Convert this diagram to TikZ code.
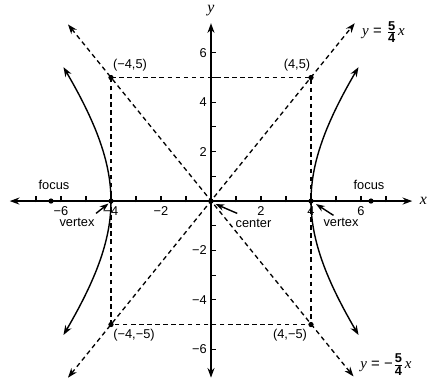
\documentclass[tikz,border=0pt]{standalone}
\usepackage{fontspec}
\setmainfont{Liberation Sans}
\newfontfamily\serifit{Liberation Serif}[ItalicFont={Liberation Serif Italic}]
\usetikzlibrary{arrows.meta}
\begin{document}
\begin{tikzpicture}[x=0.5cm,y=0.494cm,
  tip/.style={},
  axis/.style={line width=0.8pt,{Stealth[length=5.5pt,width=4pt]}-{Stealth[length=5.5pt,width=4pt]}},
  dsh/.style={dash pattern=on 2.6pt off 2pt, line width=0.75pt},
  dasharrows/.style={dsh,{Stealth[length=5.5pt,width=4pt]}-{Stealth[length=5.5pt,width=4pt]}},
  curve/.style={line width=0.8pt,{Stealth[length=5.5pt,width=4pt]}-{Stealth[length=5.5pt,width=4pt]}},
  lbl/.style={font=\fontsize{7.3}{8.5}\selectfont, inner sep=0.5pt},
  dot/.style={circle, fill, inner sep=0pt, minimum size=3pt},
  pointer/.style={line width=0.8pt,-{Stealth[length=5pt,width=3.6pt]}},
  tick/.style={line width=0.6pt}
]
\useasboundingbox (-8.44,-7.37) rectangle (8.64,8.14);

% key points
\coordinate (O) at (0,0);
\coordinate (A) at (-4,5);
\coordinate (B) at (4,5);
\coordinate (C) at (4,-5);
\coordinate (D) at (-4,-5);
\coordinate (V1) at (-4,0);
\coordinate (V2) at (4,0);
\coordinate (F1) at (-6.4,0);
\coordinate (F2) at (6.4,0);
\coordinate (xl) at (-8.05,0);
\coordinate (xr) at (8.05,0);
\coordinate (yb) at (0,-7.15);
\coordinate (yt) at (0,7.2);
\coordinate (a1s) at (-5.72,-7.15);
\coordinate (a1e) at (5.75,7.2);
\coordinate (a2s) at (-5.72,7.15);
\coordinate (a2e) at (5.7,-7.1);

% ticks
\foreach \i in {-7,...,-1,1,2,...,7} \draw[tick] (\i,-0.05) -- (\i,0.2);
\foreach \j in {-6,...,-1,1,2,...,6} \draw[tick] (0,\j) -- (0.22,\j);

% axes
\draw[axis] (xl) -- (xr);
\draw[axis] (yb) -- (yt);
\node[lbl, font=\fontsize{9}{10}\selectfont\serifit\itshape] (xlab) at (8.5,0.02) {x};
\node[lbl, font=\fontsize{9}{10}\selectfont\serifit\itshape] (ylab) at (0,7.7) {y};

% tick labels
\foreach \i/\t in {-6/−6,-4/−4,-2/−2,2/2,4/4,6/6}
  \node[lbl] (xt\i) at (\i,-0.42) {\t};
\foreach \j/\t in {-6/−6,-4/−4,-2/−2,2/2,4/4,6/6}
  \node[lbl, anchor=east] (yt\j) at (-0.12,\j) {\t};

% dashed box and asymptotes
\draw[dsh] (A) -- (B) -- (C) -- (D) -- cycle;
\draw[dasharrows] (a1s) -- (a1e);
\draw[dasharrows] (a2s) -- (a2e);

% hyperbola
\draw[curve] plot[domain=-0.94:0.94, samples=60] ({4*cosh(\x)}, {5*sinh(\x)});
\draw[curve] plot[domain=-0.94:0.94, samples=60] ({-4*cosh(\x)}, {5*sinh(\x)});

% dots
\foreach \p in {A,B,C,D,V1,V2,F1,F2,O} \node[dot] at (\p) {};

% point labels
\node[lbl] (lA) at (-3.24,5.5) {(−4,5)};
\node[lbl] (lB) at (3.44,5.5) {(4,5)};
\node[lbl] (lD) at (-3.08,-5.43) {(−4,−5)};
\node[lbl] (lC) at (3.16,-5.43) {(4,−5)};

% focus labels
\node[lbl] (fl) at (-6.28,0.66) {focus};
\node[lbl] (fr) at (6.32,0.66) {focus};

% vertex / center labels with pointers
\node[lbl] (vl) at (-5.36,-0.86) {vertex};
\node[lbl] (vr) at (5.2,-0.86) {vertex};
\node[lbl] (cl) at (1.7,-0.9) {center};
\coordinate (vlt) at (-4.6,-0.5);
\coordinate (vlh) at (-4.1,-0.1);
\coordinate (vrt) at (4.9,-0.58);
\coordinate (vrh) at (4.2,-0.12);
\coordinate (clt) at (1.05,-0.5);
\coordinate (clh) at (0.18,-0.12);
\draw[pointer] (vlt) -- (vlh);
\draw[pointer] (vrt) -- (vrh);
\draw[pointer] (clt) -- (clh);

% equations
\node[lbl, font=\fontsize{8.5}{9}\selectfont] (e1) at (6.9,6.85)
  {{\serifit\itshape y} = $\frac{\mbox{\fontsize{7.3}{8}\selectfont\bfseries 5}}{\mbox{\fontsize{7.3}{8}\selectfont\bfseries 4}}$\kern0.5pt{\serifit\itshape x}};
\node[lbl, font=\fontsize{8.5}{9}\selectfont] (e2) at (7.0,-6.62)
  {{\serifit\itshape y} = −$\frac{\mbox{\fontsize{7.3}{8}\selectfont\bfseries 5}}{\mbox{\fontsize{7.3}{8}\selectfont\bfseries 4}}$\kern0.5pt{\serifit\itshape x}};
\end{tikzpicture}
\end{document}
